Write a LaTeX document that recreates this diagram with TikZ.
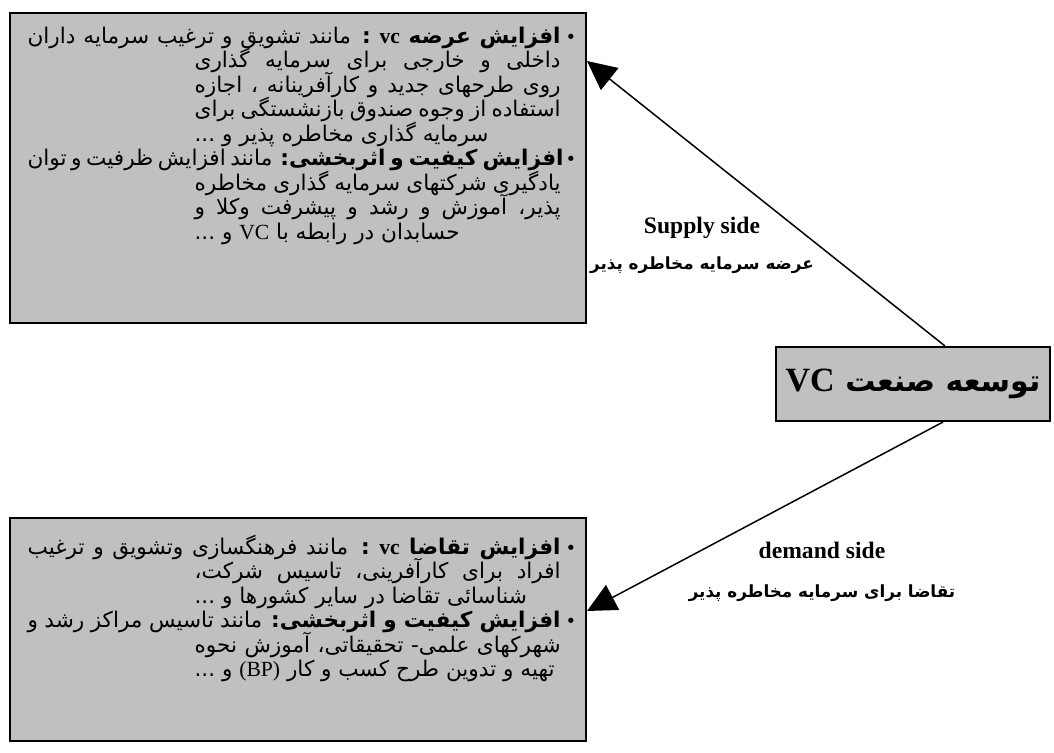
\documentclass[tikz,border=0pt]{standalone}
\usepackage{fontspec}
\setmainfont{Liberation Serif}
\newfontfamily\arabicfont[Script=Arabic]{DejaVu Sans}
\newfontfamily\symfont{DejaVu Sans}
\TeXXeTstate=1
\usetikzlibrary{arrows.meta,calc}
\definecolor{panelgray}{RGB}{192,192,192}

\newcommand{\lt}[1]{\beginL{\rmfamily #1}\endL}
\newcommand{\faline}[2]{\hbox to #1{\arabicfont #2}}
\newcommand{\falast}[2]{\hbox to #1{\arabicfont #2\hfil}}

\begin{document}
\begin{tikzpicture}[x=0.5pt, y=-0.5pt,
	panel/.style={draw, line width=1pt, fill=panelgray, inner sep=0pt},
	ln/.style={anchor=base east, inner sep=0pt, font=\fontsize{10.8}{12}\selectfont},
	bul/.style={anchor=base, inner sep=0pt, font=\symfont\fontsize{9}{10}\selectfont},
	conn/.style={line width=0.75pt, -{Triangle[length=14.5pt,width=14pt]}},
	enlbl/.style={inner sep=0pt, font=\bfseries\fontsize{11.8}{13}\selectfont},
	falbl/.style={inner sep=0pt, font=\arabicfont\bfseries\fontsize{8.4}{10}\selectfont}]
	\useasboundingbox (0,0) rectangle (1054,752);

	\node[panel, minimum width=288pt, minimum height=155pt] (supply) at (298,168) {};
	\node[panel, minimum width=288pt, minimum height=111.5pt] (demand) at (298,629.5) {};
	\node[panel, minimum width=137pt, minimum height=37pt, font=\arabicfont\bfseries\fontsize{15}{18}\selectfont] (vc) at (913,384) {\beginR توسعه صنعت {\fontsize{17}{18}\selectfont\lt{VC}}\endR};

	\node[ln] (s1) at (561,43) {\faline{266.5pt}{\beginR{\bfseries افزایش عرضه \lt{vc} :} مانند تشویق و ترغیب سرمایه داران\endR}};
	\node[ln] (s2) at (561,67.5) {\faline{183pt}{\beginR داخلی و خارجی برای سرمایه گذاری\endR}};
	\node[ln] (s3) at (561,92) {\faline{183pt}{\beginR روی طرحهای جدید و کارآفرینانه ، اجازه\endR}};
	\node[ln] (s4) at (561,116.5) {\faline{183pt}{\beginR استفاده از وجوه صندوق بازنشستگی برای\endR}};
	\node[ln] (s5) at (561,141) {\falast{183pt}{\beginR سرمایه گذاری مخاطره پذیر و ...\endR}};
	\node[ln] (s6) at (561,165.5) {\faline{266.5pt}{\beginR{\bfseries افزایش کیفیت و اثربخشی:} مانند افزایش ظرفیت و توان\endR}};
	\node[ln] (s7) at (561,190) {\faline{183pt}{\beginR یادگیری شرکتهای سرمایه گذاری مخاطره\endR}};
	\node[ln] (s8) at (561,214.5) {\faline{183pt}{\beginR پذیر، آموزش و رشد و پیشرفت وکلا و\endR}};
	\node[ln] (s9) at (561,239) {\falast{183pt}{\beginR حسابدان در رابطه با \lt{VC} و ...\endR}};
	\node[bul] (sb1) at (571,43) {•};
	\node[bul] (sb2) at (571,165.5) {•};

	\node[ln] (d1) at (561,554) {\faline{266.5pt}{\beginR{\bfseries افزایش تقاضا \lt{vc} :} مانند فرهنگسازی وتشویق و ترغیب\endR}};
	\node[ln] (d2) at (561,578.5) {\faline{183pt}{\beginR افراد برای کارآفرینی، تاسیس شرکت،\endR}};
	\node[ln] (d3) at (561,603) {\falast{183pt}{\beginR شناسائی تقاضا در سایر کشورها و ...\endR}};
	\node[ln] (d4) at (561,627.5) {\faline{266.5pt}{\beginR{\bfseries افزایش کیفیت و اثربخشی:} مانند تاسیس مراکز رشد و\endR}};
	\node[ln] (d5) at (561,652) {\faline{183pt}{\beginR شهرکهای علمی- تحقیقاتی، آموزش نحوه\endR}};
	\node[ln] (d6) at (561,676.5) {\falast{183pt}{\beginR تهیه و تدوین طرح کسب و کار \lt{(BP)} و ...\endR}};
	\node[bul] (db1) at (571,554) {•};
	\node[bul] (db2) at (571,627.5) {•};

	\draw[conn] ($(vc.north)+(32,0)$) -- ($(supply.north east)+(0,49)$);
	\draw[conn] ($(vc.south)+(30,0)$) -- ($(demand.north east)+(0,94)$);

	\node[enlbl] (suplbl) at (702,228) {Supply side};
	\node[falbl] (supfa) at (702,265) {\beginR عرضه سرمایه مخاطره پذیر\endR};
	\node[enlbl] (demlbl) at (822,550) {demand side};
	\node[falbl] (demfa) at (822,593) {\beginR تقاضا برای سرمایه مخاطره پذیر\endR};
\end{tikzpicture}
\end{document}
